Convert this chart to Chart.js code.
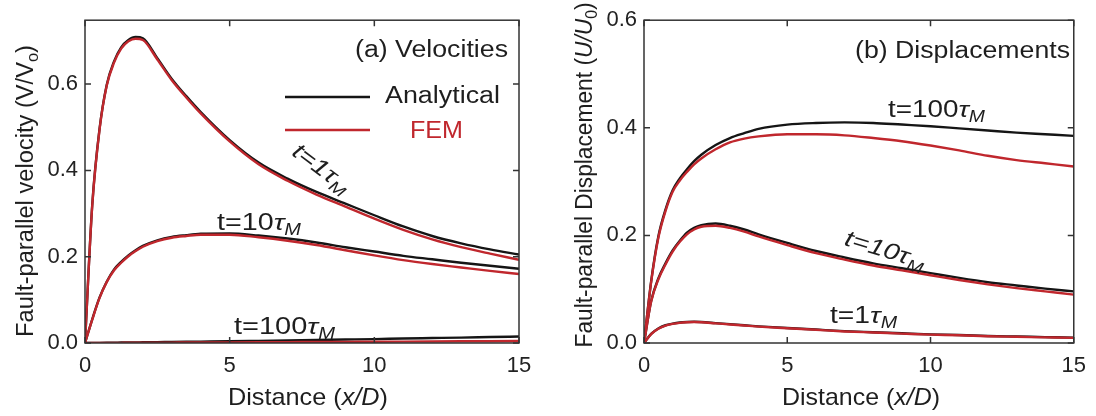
<!DOCTYPE html>
<html>
<head>
<meta charset="utf-8">
<script src="https://cdn.jsdelivr.net/npm/chart.js@4"></script>
<style>
  html, body { margin: 0; padding: 0; background: #fff; }
  #wrap { position: relative; width: 1096px; height: 416px; overflow: hidden; }
  .panel { position: absolute; top: 0; width: 548px; height: 416px; }
</style>
</head>
<body>
<div id="wrap">
  <div class="panel" style="left:0"><canvas id="velChart" width="548" height="416"></canvas></div>
  <div class="panel" style="left:548px"><canvas id="dispChart" width="548" height="416"></canvas></div>
</div>
<script>
// 資料 (x/D)
const distance = [0, 0.25, 0.5, 0.75, 1, 1.25, 1.5, 1.75, 2, 2.5, 3, 3.5, 4, 5, 6, 7, 8, 9, 10, 11, 12, 13, 14, 15];

// (a) 速度 V/V0
const velAnalytical1 = [0, 0.32, 0.495, 0.598, 0.652, 0.685, 0.702, 0.709, 0.706, 0.66, 0.612, 0.572, 0.535, 0.47, 0.418, 0.381, 0.35, 0.323, 0.296, 0.27, 0.248, 0.231, 0.217, 0.205];
const velFem1 = [0, 0.318, 0.493, 0.596, 0.649, 0.682, 0.699, 0.705, 0.702, 0.657, 0.609, 0.569, 0.532, 0.467, 0.414, 0.376, 0.344, 0.316, 0.288, 0.262, 0.24, 0.222, 0.207, 0.193];
const velAnalytical10 = [0, 0.055, 0.105, 0.142, 0.17, 0.188, 0.203, 0.215, 0.225, 0.238, 0.246, 0.25, 0.253, 0.254, 0.249, 0.242, 0.233, 0.222, 0.212, 0.202, 0.194, 0.186, 0.179, 0.172];
const velFem10 = [0, 0.054, 0.104, 0.141, 0.168, 0.186, 0.201, 0.213, 0.223, 0.236, 0.244, 0.248, 0.251, 0.251, 0.245, 0.237, 0.227, 0.215, 0.203, 0.192, 0.183, 0.175, 0.167, 0.16];
const velAnalytical100 = [0, 0.0002, 0.0004, 0.0006, 0.0008, 0.001, 0.0012, 0.0014, 0.0016, 0.002, 0.0024, 0.0028, 0.0032, 0.004, 0.005, 0.006, 0.007, 0.008, 0.009, 0.0105, 0.0115, 0.0125, 0.0138, 0.015];
const velFem100 = [0, 0.0001, 0.0001, 0.0002, 0.0003, 0.0004, 0.0005, 0.0005, 0.0006, 0.0008, 0.0009, 0.0011, 0.0012, 0.0015, 0.0018, 0.0021, 0.0024, 0.0027, 0.003, 0.0033, 0.0036, 0.0039, 0.0042, 0.0045];

// (b) 位移 U/U0
const dispAnalytical1 = [0, 0.017, 0.027, 0.033, 0.036, 0.038, 0.039, 0.0395, 0.039, 0.037, 0.035, 0.033, 0.031, 0.028, 0.025, 0.022, 0.02, 0.018, 0.016, 0.015, 0.013, 0.012, 0.011, 0.01];
const dispFem1 = [0, 0.0165, 0.0265, 0.0325, 0.0355, 0.0375, 0.0385, 0.039, 0.0385, 0.0365, 0.0345, 0.0325, 0.0305, 0.0275, 0.0245, 0.0215, 0.0195, 0.0175, 0.0155, 0.0145, 0.0125, 0.0115, 0.0105, 0.0095];
const dispAnalytical10 = [0, 0.078, 0.12, 0.148, 0.172, 0.19, 0.205, 0.214, 0.219, 0.222, 0.218, 0.211, 0.202, 0.186, 0.171, 0.159, 0.148, 0.139, 0.13, 0.121, 0.113, 0.107, 0.101, 0.096];
const dispFem10 = [0, 0.077, 0.118, 0.146, 0.17, 0.188, 0.202, 0.211, 0.216, 0.218, 0.214, 0.207, 0.198, 0.182, 0.167, 0.155, 0.144, 0.135, 0.126, 0.117, 0.109, 0.102, 0.096, 0.09];
const dispAnalytical100 = [0, 0.115, 0.198, 0.248, 0.284, 0.306, 0.323, 0.338, 0.35, 0.368, 0.381, 0.39, 0.398, 0.406, 0.409, 0.41, 0.409, 0.406, 0.403, 0.399, 0.395, 0.391, 0.388, 0.385];
const dispFem100 = [0, 0.113, 0.195, 0.245, 0.281, 0.302, 0.318, 0.332, 0.343, 0.36, 0.373, 0.38, 0.384, 0.388, 0.388, 0.386, 0.381, 0.375, 0.367, 0.358, 0.348, 0.34, 0.334, 0.328];

const xTicks = [0, 5, 10, 15];
const velTicks = [0, 0.2, 0.4, 0.6];
const dispTicks = [0, 0.2, 0.4, 0.6];

const BLACK = '#151515';
const RED = '#c0272d';
const FONT = '"Liberation Sans", Arial, sans-serif';

// 畫混合字體文字 (斜體、下標)
function drawRich(ctx, spec, offsetX) {
    const size = spec.size || 23;
    const fontOf = p => `${p[1] === 'i' ? 'italic ' : ''}${p[2] ? Math.round(size * 0.68) : size}px ${FONT}`;
    ctx.save();
    ctx.translate(spec.x - offsetX, spec.y);
    if (spec.rot) ctx.rotate(spec.rot * Math.PI / 180);
    let w = 0;
    const widths = spec.parts.map(p => {
        ctx.font = fontOf(p);
        const pw = ctx.measureText(p[0]).width;
        w += pw;
        return pw;
    });
    if (spec.width) ctx.scale(spec.width / w, 1);
    let x = spec.align === 'center' ? -w / 2 : 0;
    ctx.fillStyle = spec.color || '#1e1e1e';
    ctx.textBaseline = 'alphabetic';
    ctx.textAlign = 'left';
    spec.parts.forEach((p, i) => {
        ctx.font = fontOf(p);
        ctx.fillText(p[0], x, p[2] ? size * 0.22 : 0);
        x += widths[i];
    });
    ctx.restore();
}

// 外框、內向刻度與文字
function makeDecor(texts, legendLines, offsetX) {
    return {
        id: 'decor',
        afterDatasetsDraw(chart) {
            const { ctx, chartArea: a, scales } = chart;
            ctx.save();
            ctx.strokeStyle = '#333';
            ctx.lineWidth = 1.5;
            ctx.strokeRect(a.left, a.top, a.right - a.left, a.bottom - a.top);
            ctx.beginPath();
            scales.x.ticks.forEach(t => {
                const px = scales.x.getPixelForValue(t.value);
                ctx.moveTo(px, a.bottom); ctx.lineTo(px, a.bottom - 6);
                ctx.moveTo(px, a.top); ctx.lineTo(px, a.top + 6);
            });
            scales.y.ticks.forEach(t => {
                const py = scales.y.getPixelForValue(t.value);
                ctx.moveTo(a.left, py); ctx.lineTo(a.left + 6, py);
                ctx.moveTo(a.right, py); ctx.lineTo(a.right - 6, py);
            });
            ctx.stroke();
            legendLines.forEach(l => {
                ctx.strokeStyle = l.color;
                ctx.lineWidth = 2.4;
                ctx.beginPath();
                ctx.moveTo(l.x1 - offsetX, l.y);
                ctx.lineTo(l.x2 - offsetX, l.y);
                ctx.stroke();
            });
            ctx.restore();
            texts.forEach(t => drawRich(ctx, t, offsetX));
        }
    };
}

function series(xs, ys) {
    return xs.map((x, i) => ({ x: x, y: ys[i] }));
}

function lineDataset(label, ys, color, order) {
    return {
        label: label,
        data: series(distance, ys),
        borderColor: color,
        backgroundColor: color,
        borderWidth: 2.4,
        pointRadius: 0,
        cubicInterpolationMode: 'monotone',
        fill: false,
        order: order
    };
}

function makeChart(canvasId, datasets, yMax, yTicks, yWidth, pad, decor) {
    const ctx = document.getElementById(canvasId).getContext('2d');
    return new Chart(ctx, {
        type: 'line',
        data: { datasets: datasets },
        options: {
            responsive: false,
            animation: false,
            devicePixelRatio: 1,
            layout: { padding: pad },
            plugins: { legend: { display: false }, tooltip: { enabled: false } },
            scales: {
                x: {
                    type: 'linear', min: 0, max: 15,
                    grid: { display: false, drawTicks: false },
                    border: { display: false },
                    afterBuildTicks: s => { s.ticks = xTicks.map(v => ({ value: v })); },
                    afterFit: s => { s.height = 73; },
                    ticks: { padding: 10, maxRotation: 0, color: '#222', font: { family: FONT, size: 22 } }
                },
                y: {
                    type: 'linear', min: 0, max: yMax,
                    grid: { display: false, drawTicks: false },
                    border: { display: false },
                    afterBuildTicks: s => { s.ticks = yTicks.map(v => ({ value: v })); },
                    afterFit: s => { s.width = yWidth; },
                    ticks: {
                        padding: 7, color: '#222', font: { family: FONT, size: 22 },
                        callback: v => Number(v).toFixed(1)
                    }
                }
            }
        },
        plugins: [decor]
    });
}

const tauM = (pre, style) => [[pre, style], ['τ', 'i'], ['M', 'i', 1]];

const velTexts = [
    { parts: [['(a) Velocities']], x: 355, y: 57, width: 153 },
    { parts: [['Analytical']], x: 385, y: 103, width: 115 },
    { parts: [['FEM']], x: 410, y: 138, width: 53, color: RED },
    { parts: tauM('t=1', 'i'), x: 317, y: 174, align: 'center', rot: 37, width: 66 },
    { parts: tauM('t=10'), x: 217, y: 230, width: 84 },
    { parts: tauM('t=100'), x: 234, y: 334, width: 101 },
    { parts: [['Distance ('], ['x/D', 'i'], [')']], x: 308, y: 405, align: 'center', width: 160, size: 24 },
    { parts: [['Fault-parallel velocity (V/V'], ['o', '', 1], [')']], x: 33, y: 191, align: 'center', rot: -90, width: 292 }
];
const velLegend = [
    { x1: 285, x2: 370, y: 97, color: BLACK },
    { x1: 285, x2: 370, y: 130, color: RED }
];

const dispTexts = [
    { parts: [['(b) Displacements']], x: 855, y: 58, width: 215 },
    { parts: tauM('t=100'), x: 888, y: 117, width: 97 },
    { parts: tauM('t=10', 'i'), x: 883, y: 257, align: 'center', rot: 17, width: 83 },
    { parts: tauM('t=1'), x: 830, y: 323, width: 67 },
    { parts: [['Distance ('], ['x/D', 'i'], [')']], x: 861, y: 405, align: 'center', width: 158, size: 24 },
    { parts: [['Fault-parallel Displacement ('], ['U/U', 'i'], ['0', '', 1], [')']], x: 592, y: 175, align: 'center', rot: -90, width: 345 }
];

makeChart('velChart', [
    lineDataset('FEM t=1', velFem1, RED, 0),
    lineDataset('FEM t=10', velFem10, RED, 0),
    lineDataset('FEM t=100', velFem100, RED, 0),
    lineDataset('Analytical t=1', velAnalytical1, BLACK, 1),
    lineDataset('Analytical t=10', velAnalytical10, BLACK, 1),
    lineDataset('Analytical t=100', velAnalytical100, BLACK, 1)
], 0.748, velTicks, 85, { left: 0, top: 17, right: 29, bottom: 0 }, makeDecor(velTexts, velLegend, 0));

makeChart('dispChart', [
    lineDataset('FEM t=1', dispFem1, RED, 0),
    lineDataset('FEM t=10', dispFem10, RED, 0),
    lineDataset('FEM t=100', dispFem100, RED, 0),
    lineDataset('Analytical t=1', dispAnalytical1, BLACK, 1),
    lineDataset('Analytical t=10', dispAnalytical10, BLACK, 1),
    lineDataset('Analytical t=100', dispAnalytical100, BLACK, 1)
], 0.6, dispTicks, 96, { left: 0, top: 18, right: 16, bottom: 0 }, makeDecor(dispTexts, [], 548));
</script>
</body>
</html>
